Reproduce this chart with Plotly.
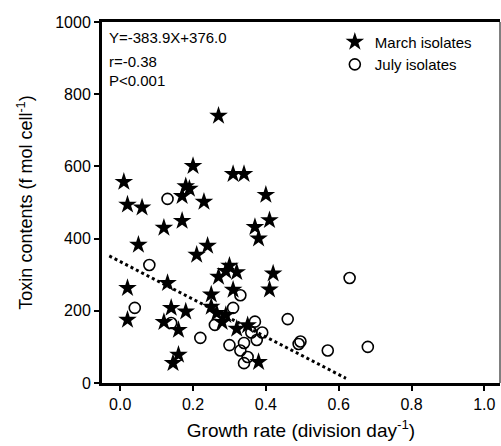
import plotly.graph_objects as go

# March isolates (stars)
march_x = [0.27, 0.20, 0.31, 0.34, 0.01, 0.18, 0.19, 0.17, 0.23, 0.02, 0.06, 0.40,
           0.17, 0.12, 0.37, 0.38, 0.41, 0.05, 0.24, 0.21, 0.02, 0.13, 0.27, 0.29,
           0.32, 0.42, 0.41, 0.31, 0.25, 0.25, 0.265, 0.02, 0.14, 0.18, 0.12, 0.16,
           0.29, 0.28, 0.32, 0.35, 0.38, 0.145, 0.16, 0.30]
march_y = [740, 601, 579, 579, 557, 545, 538, 518, 502, 494, 486, 521,
           449, 430, 432, 400, 451, 383, 380, 355, 263, 277, 294, 310,
           307, 303, 259, 258, 245, 211, 194, 175, 208, 198, 169, 147,
           188, 169, 150, 160, 58, 55, 78, 325]

# July isolates (open circles)
july_x = [0.13, 0.08, 0.33, 0.31, 0.04, 0.14, 0.26, 0.22, 0.37, 0.30, 0.34, 0.375,
          0.35, 0.34, 0.39, 0.46, 0.49, 0.57, 0.63, 0.68, 0.33, 0.36, 0.495]
july_y = [510, 327, 243, 208, 208, 166, 161, 125, 170, 105, 111, 119,
          72, 55, 140, 177, 108, 90, 291, 100, 90, 140, 115]

# regression line as drawn
trend_x = [-0.03, 0.62]
trend_y = [352, 13]

x_ticks = [0.0, 0.2, 0.4, 0.6, 0.8, 1.0]
y_ticks = [0, 200, 400, 600, 800, 1000]

stats_lines = ["Y=-383.9X+376.0", "r=-0.38", "P<0.001"]
stats_pos = [0.958, 0.891, 0.839]

FONT = "Arial, Liberation Sans, sans-serif"

fig = go.Figure()
fig.add_trace(go.Scatter(x=trend_x, y=trend_y, mode="lines",
                         line=dict(color="black", width=3, dash="dot"),
                         showlegend=False, hoverinfo="skip"))
fig.add_trace(go.Scatter(x=march_x, y=march_y, mode="markers", name="March isolates",
                         marker=dict(symbol="star", size=14, color="black",
                                     line=dict(width=0))))
fig.add_trace(go.Scatter(x=july_x, y=july_y, mode="markers", name="July isolates",
                         marker=dict(symbol="circle-open", size=11, color="black",
                                     line=dict(width=1.6, color="black"))))

for t, yp in zip(stats_lines, stats_pos):
    fig.add_annotation(xref="paper", yref="paper", x=0.012, y=yp,
                       xanchor="left", yanchor="middle", text=t, showarrow=False,
                       font=dict(family=FONT, size=15, color="black"))

# thin right border
fig.add_shape(type="line", xref="paper", yref="paper", x0=1, x1=1, y0=0, y1=1,
              line=dict(color="black", width=1))

fig.update_layout(
    width=501, height=446,
    margin=dict(l=102, r=1, t=22, b=63),
    plot_bgcolor="white", paper_bgcolor="white",
    font=dict(family=FONT, color="black"),
    legend=dict(x=0.585, y=0.99, xanchor="left", yanchor="top",
                bgcolor="rgba(0,0,0,0)", font=dict(family=FONT, size=15),
                itemwidth=30, tracegroupgap=0),
    xaxis=dict(range=[-0.05, 1.043], tickvals=x_ticks, tickformat=".1f",
               showgrid=False, zeroline=False, showline=True, linecolor="black",
               linewidth=3, mirror=True, ticks="outside", ticklen=5, tickwidth=2,
               tickcolor="black", tickfont=dict(size=16, family=FONT),
               title=dict(text="Growth rate (division day<sup>-1</sup>)",
                          font=dict(size=19, family=FONT), standoff=12)),
    yaxis=dict(range=[0, 1000], tickvals=y_ticks,
               showgrid=False, zeroline=False, showline=True, linecolor="black",
               linewidth=3, ticks="outside", ticklen=5, tickwidth=2,
               tickcolor="black", tickfont=dict(size=16, family=FONT),
               title=dict(text="Toxin contents (f mol cell<sup>-1</sup>)",
                          font=dict(size=18, family=FONT), standoff=18)),
)

fig.write_html("out.html")
